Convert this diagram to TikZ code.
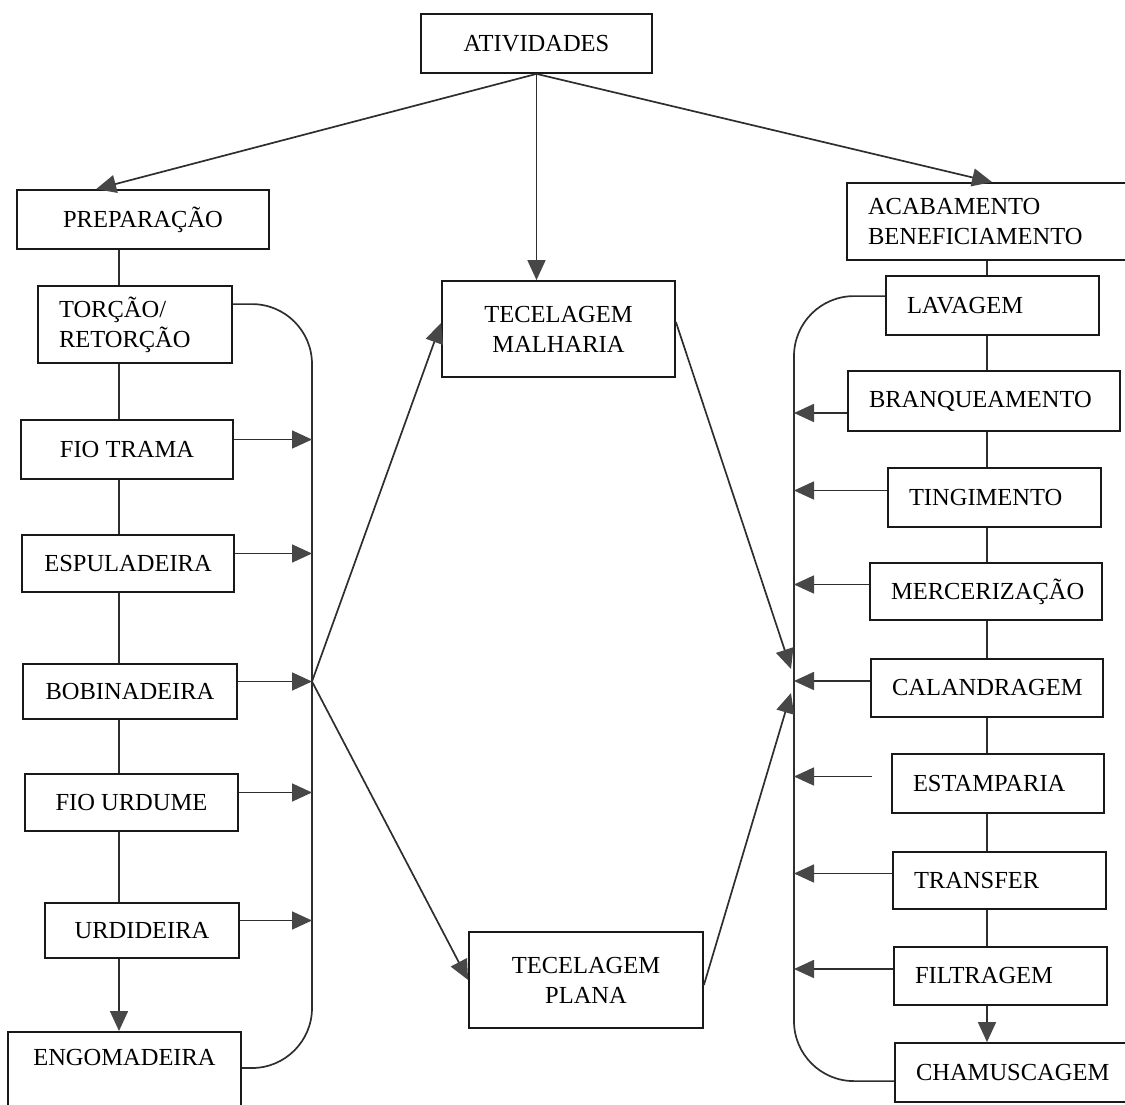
\documentclass[tikz,border=0pt]{standalone}
\usepackage{fontspec}
\setmainfont{Liberation Serif}
\usetikzlibrary{arrows.meta, positioning, calc}
\uchyph=0
\hyphenpenalty=10000

\begin{document}
\begin{tikzpicture}[
  x=1pt, y=-1pt,
  >={Triangle[length=20pt, width=18pt, color=black!72]},
  stage/.style={rectangle, draw=black!90, line width=1.8pt, inner sep=0pt, align=center, font=\fontsize{24.5}{30}\selectfont},
  stageleft/.style={stage, align=left, inner xsep=21pt},
  flowline/.style={draw=black!82, line width=1.7pt},
  patharrow/.style={flowline, ->},
  bus/.style={flowline, rounded corners=60pt}
]
  \useasboundingbox (0,0) rectangle (1125,1105);
  \clip (0,0) rectangle (1125,1105);

  % Top
  \node[stage, minimum width=231pt, minimum height=59pt] (ativ) at (536.5,43.5) {ATIVIDADES};

  % Preparacao column
  \node[stage, minimum width=252pt, minimum height=59pt] (prep) at (143,219.5) {PREPARAÇÃO};
  \node[stageleft, text width=152pt, minimum height=77pt] (torcao) at (135,324.5) {TORÇÃO/\\RETORÇÃO};
  \node[stage, minimum width=212pt, minimum height=59pt] (fiot) at (127,449.5) {FIO TRAMA};
  \node[stage, minimum width=212pt, minimum height=57pt] (espul) at (128,563.5) {ESPULADEIRA};
  \node[stage, minimum width=214pt, minimum height=55pt] (bobin) at (130,691.5) {BOBINADEIRA};
  \node[stage, minimum width=213pt, minimum height=57pt] (fiou) at (131.5,802.5) {FIO URDUME};
  \node[stage, minimum width=194pt, minimum height=55pt] (urdid) at (142,930.5) {URDIDEIRA};
  \node[stage, minimum width=233pt, text height=34pt, text depth=60pt, anchor=north] (engom) at (124.5,1031) {ENGOMADEIRA};

  % Tecelagem
  \node[stage, minimum width=233pt, minimum height=96pt] (malha) at (558.5,329) {TECELAGEM\\MALHARIA};
  \node[stage, minimum width=234pt, minimum height=96pt] (plana) at (586,980) {TECELAGEM\\PLANA};

  % Acabamento column
  \node[stageleft, text width=246pt, minimum height=77pt] (acab) at (991,221.5) {ACABAMENTO\\BENEFICIAMENTO};
  \node[stageleft, text width=171pt, minimum height=59pt] (lavag) at (992.5,305.5) {LAVAGEM};
  \node[stageleft, text width=230pt, minimum height=60pt] (branq) at (984,401) {BRANQUEAMENTO};
  \node[stageleft, text width=171pt, minimum height=59pt] (tingi) at (994.5,497.5) {TINGIMENTO};
  \node[stageleft, text width=190pt, minimum height=57pt] (merce) at (986,591.5) {MERCERIZAÇÃO};
  \node[stageleft, text width=190pt, minimum height=58pt] (calan) at (987,688) {CALANDRAGEM};
  \node[stageleft, text width=170pt, minimum height=59pt] (estam) at (998,783.5) {ESTAMPARIA};
  \node[stageleft, text width=171pt, minimum height=57pt] (trans) at (999.5,880.5) {TRANSFER};
  \node[stageleft, text width=171pt, minimum height=58pt] (filtr) at (1000.5,976) {FILTRAGEM};
  \node[stageleft, text width=198pt, minimum height=59pt] (chamu) at (1015,1072.5) {CHAMUSCAGEM};

  % Guide coordinates
  \coordinate (lspine) at (119,0);
  \coordinate (rspine) at (987,0);
  \coordinate (lbus) at (312,0);
  \coordinate (rbus) at (794,0);

  % Atividades -> branches
  \draw[patharrow] (ativ.south) -- ([xshift=80pt]prep.north west);
  \draw[patharrow] (ativ.south) -- (ativ.south |- malha.north);
  \draw[patharrow] (ativ.south) -- ([xshift=146pt]acab.north west);

  % Spines
  \foreach \a/\b in {prep/torcao, torcao/fiot, fiot/espul, espul/bobin, bobin/fiou, fiou/urdid}
    \draw[flowline] (\a.south -| lspine) -- (\b.north -| lspine);
  \draw[patharrow] (urdid.south -| lspine) -- (engom.north -| lspine);

  \foreach \a/\b in {acab/lavag, lavag/branq, branq/tingi, tingi/merce, merce/calan, calan/estam, estam/trans, trans/filtr}
    \draw[flowline] (\a.south -| rspine) -- (\b.north -| rspine);
  \draw[patharrow] (filtr.south -| rspine) -- (chamu.north -| rspine);

  % Buses
  \draw[bus] ($(torcao.north east)+(0,19)$) -| ($(engom.north east -| lbus)+(0,37)$) -- ($(engom.north east)+(0,37)$);
  \draw[bus] ($(lavag.north west)+(0,21)$) -| ($(chamu.north west -| rbus)+(0,39)$) -- ($(chamu.north west)+(0,39)$);

  % Arrows into buses
  \foreach \b in {fiot, espul, bobin, fiou, urdid}
    \draw[patharrow] ($(\b.east)+(0,-10)$) -- ($(\b.east -| lbus)+(0,-10)$);
  \foreach \b in {tingi, merce, calan, trans, filtr}
    \draw[patharrow] ($(\b.west)+(0,-7)$) -- ($(\b.west -| rbus)+(0,-7)$);
  \draw[patharrow] ($(branq.west)+(0,12)$) -- ($(branq.west -| rbus)+(0,12)$);
  \draw[patharrow] ($(estam.west)+(-19,-7)$) -- ($(estam.west -| rbus)+(0,-7)$);

  % Crossing to and from tecelagem
  \coordinate (ljoin) at ($(bobin.east -| lbus)+(0,-10)$);
  \coordinate (rjoin) at ($(calan.west -| rbus)+(0,-7)$);
  \draw[patharrow] (ljoin) -- ($(malha.west)+(0,-6)$);
  \draw[patharrow] (ljoin) -- (plana.west);
  \draw[patharrow] ($(malha.east)+(0,-7)$) -- ($(rjoin)+(-3,-12)$);
  \draw[patharrow] ($(plana.east)+(0,5)$) -- ($(rjoin)+(-3,12)$);
\end{tikzpicture}
\end{document}
